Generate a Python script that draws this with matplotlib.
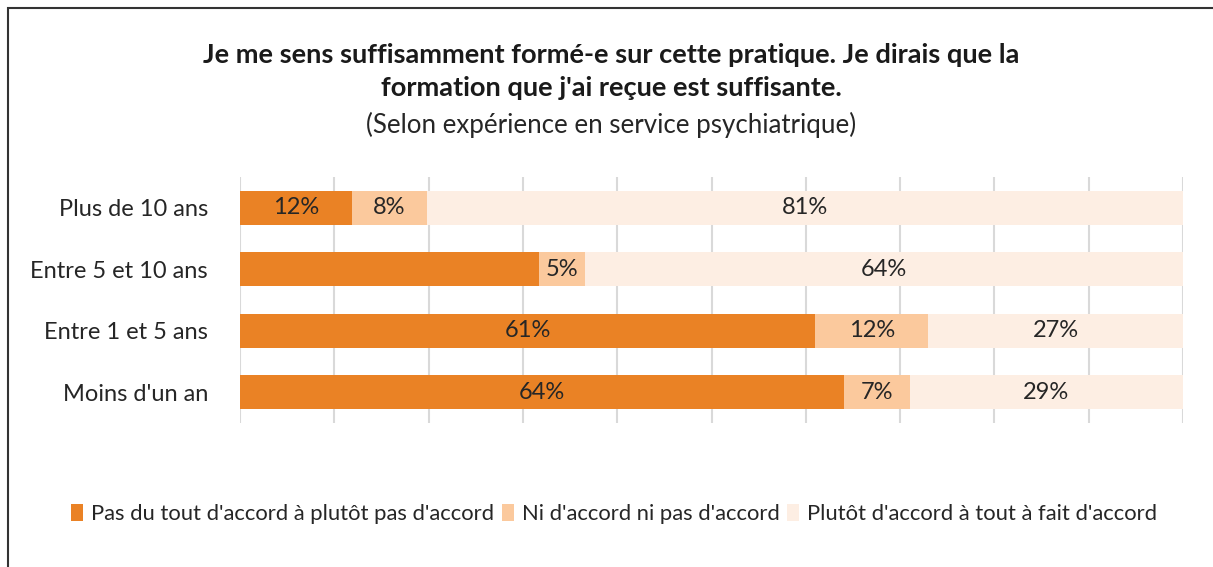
import matplotlib
matplotlib.use("Agg")
import matplotlib.pyplot as plt
from matplotlib.patches import Rectangle, Patch
import numpy as np

plt.rcParams['font.family'] = ['Lato', 'DejaVu Sans']

categories = ["Plus de 10 ans", "Entre 5 et 10 ans", "Entre 1 et 5 ans", "Moins d'un an"]
series_names = ["Pas du tout d'accord à plutôt pas d'accord",
                "Ni d'accord ni pas d'accord",
                "Plutôt d'accord à tout à fait d'accord"]
disagree = [12, 32, 61, 64]
neutral = [8, 5, 12, 7]
agree = [81, 64, 27, 29]
# whether the data label is shown in the reference
show_disagree = [True, False, True, True]
show_neutral = [True, True, True, True]
show_agree = [True, True, True, True]

colors = ["#EA8225", "#FBC99D", "#FDEEE3"]
title_l1 = "Je me sens suffisamment formé-e sur cette pratique. Je dirais que la"
title_l2 = "formation que j'ai reçue est suffisante."
subtitle = "(Selon expérience en service psychiatrique)"

fig = plt.figure(figsize=(12.13, 5.67), dpi=100)
ax = fig.add_axes([240/1213, 1-423/567, 943/1213, 246/567])

series = [disagree, neutral, agree]
shows = [show_disagree, show_neutral, show_agree]
totals = np.sum(np.array(series, dtype=float), axis=0)
y = np.arange(len(categories))
left = np.zeros(len(categories))
for vals, show, col, name in zip(series, shows, colors, series_names):
    w = np.array(vals, dtype=float) / totals * 100
    ax.barh(y, w, left=left, height=0.555, color=col, label=name, zorder=3)
    for i in range(len(categories)):
        if show[i]:
            ax.text(left[i] + w[i]/2, y[i], f"{vals[i]}%", ha='center', va='center',
                    fontsize=17, color='#262626', zorder=4)
    left += w

ax.set_xlim(0, 100)
ax.set_ylim(len(categories) - 0.5, -0.5)
ax.set_yticks(y)
ax.set_yticklabels(categories, fontsize=17, color='#262626')
ax.tick_params(axis='y', length=0, pad=23)
ax.set_xticks(np.arange(0, 101, 10))
ax.set_xticklabels([])
ax.tick_params(axis='x', length=0)
ax.grid(axis='x', color='#D9D9D9', linewidth=1.5, zorder=0)
for s in ax.spines.values():
    s.set_visible(False)

fig.text(611/1213, 1-55/567, title_l1, ha='center', va='center', fontsize=19.6, fontweight='bold', color='#1a1a1a')
fig.text(611/1213, 1-88/567, title_l2, ha='center', va='center', fontsize=19.6, fontweight='bold', color='#1a1a1a')
fig.text(611/1213, 1-125/567, subtitle, ha='center', va='center', fontsize=18.6, color='#262626')

handles = [Patch(facecolor=c, edgecolor='none') for c in colors]
fig.legend(handles, series_names, loc='center', bbox_to_anchor=(614/1213, 1-514/567), ncol=3,
           frameon=False, fontsize=15.8, handlelength=0.55, handleheight=0.8,
           handletextpad=0.35, columnspacing=0.35, labelcolor='#262626')

# outer frame
fig.add_artist(Rectangle((8/1213, -0.1), 1.2, 1 - 8/567 + 0.1, transform=fig.transFigure,
                         fill=False, edgecolor='#333333', linewidth=1.5))

fig.savefig("out.png", dpi=100)
